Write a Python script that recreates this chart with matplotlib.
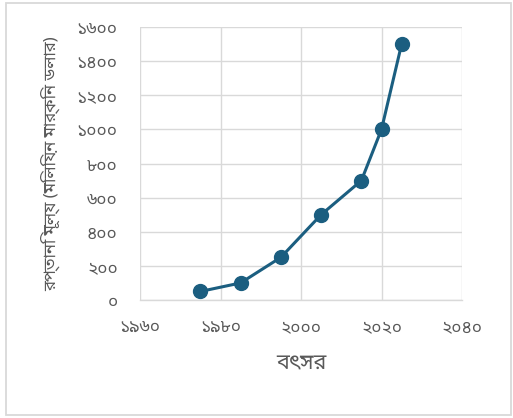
import matplotlib
matplotlib.use("Agg")
import matplotlib.pyplot as plt
from matplotlib.patches import Rectangle

plt.rcParams["font.family"] = ["Noto Sans Bengali", "DejaVu Sans"]

# data
years = [1975, 1985, 1995, 2005, 2015, 2020, 2025]
exports = [50, 100, 250, 500, 700, 1000, 1500]

x_ticks = [1960, 1980, 2000, 2020, 2040]
x_labels = ["১৯৬০", "১৯৮০", "২০০০", "২০২০", "২০৪০"]
y_ticks = [0, 200, 400, 600, 800, 1000, 1200, 1400, 1600]
y_labels = ["০", "২০০", "৪০০", "৬০০", "৮০০", "১০০০", "১২০০", "১৪০০", "১৬০০"]

x_title = "বৎসর"
y_title = "রপ্তানি মূল্য (মিলিয়ন মার্কিন ডলার)"

line_color = "#1b5e80"
text_color = "#595959"
grid_color = "#d9d9d9"

fig = plt.figure(figsize=(5.13, 4.18), dpi=100)
ax = fig.add_axes([0.2729, 0.2823, 0.6277, 0.6531])

# outer chart border
fig.patches.append(
    Rectangle((0.0117, 0.008), 0.985, 0.985, transform=fig.transFigure,
              fill=False, edgecolor="#d9d9d9", linewidth=1.3)
)

ax.plot(years, exports, color=line_color, linewidth=2.2, marker="o",
        markersize=10, zorder=3, clip_on=False)

ax.set_xlim(1960, 2040)
ax.set_ylim(0, 1600)
ax.set_xticks(x_ticks)
ax.set_xticklabels(x_labels)
ax.set_yticks(y_ticks)
ax.set_yticklabels(y_labels)

ax.grid(True, color=grid_color, linewidth=1)
ax.set_axisbelow(True)
for side in ["top", "right", "left"]:
    ax.spines[side].set_visible(False)
ax.spines["bottom"].set_color(grid_color)
ax.spines["bottom"].set_linewidth(1)

ax.tick_params(axis="both", length=0, labelsize=12.5, colors=text_color)
ax.tick_params(axis="y", pad=16)
ax.tick_params(axis="x", pad=13)

ax.set_xlabel(x_title, fontsize=15.5, color=text_color, labelpad=12)
ax.set_ylabel(y_title, fontsize=12, color=text_color, labelpad=12)

fig.savefig("out.png", dpi=100)
